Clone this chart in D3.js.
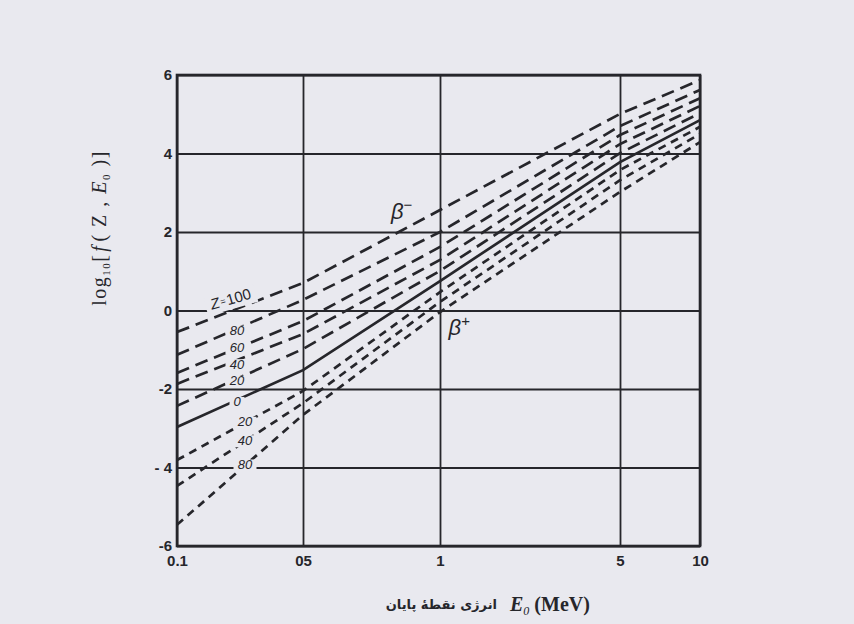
<!DOCTYPE html>
<html>
<head>
<meta charset="utf-8">
<script src="https://cdn.jsdelivr.net/npm/d3@7"></script>
<style>
  body { margin: 0; background: #e9e9ef; }
  svg { display: block; }
</style>
</head>
<body>
<svg id="chart" width="854" height="624"></svg>
<script>
const energies = [0.1, 0.5, 1, 5, 10];

// log10 f(Z, E0) for beta-minus emitters
const betaMinus100 = [-0.55, 0.70, 2.56, 5.01, 5.87];
const betaMinus80 = [-1.13, 0.27, 2.00, 4.70, 5.62];
const betaMinus60 = [-1.59, -0.27, 1.62, 4.47, 5.41];
const betaMinus40 = [-1.87, -0.60, 1.29, 4.24, 5.21];
const betaMinus20 = [-2.43, -0.98, 1.01, 4.01, 5.03];
// Z = 0
const zeroCharge = [-2.97, -1.52, 0.75, 3.78, 4.85];
// beta-plus emitters
const betaPlus20 = [-3.81, -2.05, 0.47, 3.58, 4.68];
const betaPlus40 = [-4.47, -2.36, 0.22, 3.32, 4.50];
const betaPlus80 = [-5.46, -2.66, -0.04, 3.02, 4.29];

const curveLabels = ["100", "80", "60", "40", "20", "0", "20", "40", "80"];
const curveKinds = ["minus", "minus", "minus", "minus", "minus", "zero", "plus", "plus", "plus"];

// Axis ticks
const xTicks = [0.1, 0.5, 1, 5, 10];
const xTickLabels = ["0.1", "05", "1", "5", "10"];
const yTicks = [-6, -4, -2, 0, 2, 4, 6];
const yTickLabels = ["-6", "- 4", "-2", "0", "2", "4", "6"];

const curves = [betaMinus100, betaMinus80, betaMinus60, betaMinus40, betaMinus20,
  zeroCharge, betaPlus20, betaPlus40, betaPlus80];

const ink = "#26262b";
const paper = "#e9e9ef";

const svg = d3.select("#chart");
svg.append("rect").attr("width", 854).attr("height", 624).attr("fill", paper);

const plotLeft = 177, plotRight = 700, plotTop = 75, plotBottom = 546;

// The printed energy axis is not evenly spaced, so use a piecewise log scale
const x = d3.scaleLog()
  .domain(xTicks)
  .range([plotLeft, 303, 440, 620, plotRight]);

const y = d3.scaleLinear()
  .domain([-6, 6])
  .range([plotBottom, plotTop]);

// Grid + tick labels
const xAxis = svg.append("g")
  .attr("transform", `translate(0,${plotBottom})`)
  .call(d3.axisBottom(x)
    .tickValues(xTicks)
    .tickSize(-(plotBottom - plotTop))
    .tickPadding(9)
    .tickFormat((d, i) => xTickLabels[i]));

const yAxis = svg.append("g")
  .attr("transform", `translate(${plotLeft},0)`)
  .call(d3.axisLeft(y)
    .tickValues(yTicks)
    .tickSize(-(plotRight - plotLeft))
    .tickPadding(5)
    .tickFormat((d, i) => yTickLabels[i]));

[xAxis, yAxis].forEach(g => {
  g.select(".domain").remove();
  g.selectAll(".tick line").attr("stroke", ink).attr("stroke-width", 1.8);
  g.selectAll(".tick text")
    .attr("fill", ink)
    .style("font-family", "Liberation Sans, Arial, sans-serif")
    .style("font-weight", "bold")
    .style("font-size", "15px");
});

// Plot border
svg.append("rect")
  .attr("x", plotLeft).attr("y", plotTop)
  .attr("width", plotRight - plotLeft).attr("height", plotBottom - plotTop)
  .attr("fill", "none")
  .attr("stroke", ink)
  .attr("stroke-width", 2.6);

// Curves
const line = d3.line()
  .x((d, i) => x(energies[i]))
  .y(d => y(d));

const dashFor = { minus: "13,7", zero: null, plus: "8,6" };

curves.forEach((values, k) => {
  svg.append("path")
    .datum(values)
    .attr("fill", "none")
    .attr("stroke", ink)
    .attr("stroke-width", 2.7)
    .attr("stroke-dasharray", dashFor[curveKinds[k]])
    .attr("d", line);
});

// Curve labels, placed where each curve crosses a fixed column
function curveYAt(values, px) {
  const pts = values.map((v, i) => [x(energies[i]), y(v)]);
  for (let i = 0; i < pts.length - 1; i++) {
    if (px >= pts[i][0] && px <= pts[i + 1][0]) {
      const t = (px - pts[i][0]) / (pts[i + 1][0] - pts[i][0]);
      return pts[i][1] + t * (pts[i + 1][1] - pts[i][1]);
    }
  }
  return pts[0][1];
}

// small nudges so the stacked labels don't collide
const labelNudge = [0, 3, 0, 5, 3, 3, 0, 0, 0];

const labelFont = "Liberation Sans, Arial, sans-serif";
curves.forEach((values, k) => {
  const kind = curveKinds[k];
  const px = kind === "plus" ? 245 : 237;
  const py = curveYAt(values, px) + labelNudge[k];
  const g = svg.append("g");
  if (k === 0) {
    // "Z = 100" label sits tilted along the top curve
    g.attr("transform", `translate(${px - 8},${py - 8}) rotate(-16)`);
    g.append("rect").attr("x", -24).attr("y", -9).attr("width", 52).attr("height", 18).attr("fill", paper);
    const t = g.append("text")
      .attr("x", 2).attr("y", 0)
      .attr("text-anchor", "middle")
      .attr("dominant-baseline", "middle")
      .attr("fill", ink)
      .style("font-family", labelFont)
      .style("font-size", "15px");
    t.append("tspan").style("font-style", "italic").text("Z");
    t.append("tspan").style("font-size", "9px").attr("dx", 1).text("=");
    t.append("tspan").attr("dx", 1).text(curveLabels[k]);
  } else {
    const w = curveLabels[k].length * 8 + 7;
    g.append("rect")
      .attr("x", px - w / 2).attr("y", py - 6)
      .attr("width", w).attr("height", 12)
      .attr("fill", paper);
    g.append("text")
      .attr("x", px).attr("y", py)
      .attr("text-anchor", "middle")
      .attr("dominant-baseline", "middle")
      .attr("fill", ink)
      .style("font-family", labelFont)
      .style("font-style", "italic")
      .style("font-size", "13px")
      .text(curveLabels[k]);
  }
});

// beta- and beta+ annotations
function betaLabel(px, py, sign) {
  const t = svg.append("text")
    .attr("x", px).attr("y", py)
    .attr("fill", ink)
    .style("font-family", "Liberation Sans, Arial, sans-serif")
    .style("font-style", "italic")
    .style("font-size", "22px");
  t.append("tspan").text("β");
  t.append("tspan").attr("dy", -9).style("font-size", "15px").style("font-style", "normal").text(sign);
}
betaLabel(x(0.78), y(2.32), "−");
betaLabel(x(1.08), y(-0.62), "+");

// Y axis title
const yTitle = svg.append("text")
  .attr("transform", "translate(106,228) rotate(-90)")
  .attr("text-anchor", "middle")
  .attr("fill", ink)
  .style("font-family", "Liberation Serif, Times New Roman, serif")
  .style("font-size", "20px")
  .style("letter-spacing", "1.5px");
yTitle.append("tspan").text("log");
yTitle.append("tspan").attr("dy", 4).style("font-size", "11px").text("10");
yTitle.append("tspan").attr("dy", -4).text("[");
yTitle.append("tspan").style("font-style", "italic").attr("dx", 2).text("f");
yTitle.append("tspan").attr("dx", 3).text("( Z , ");
yTitle.append("tspan").style("font-style", "italic").text("E");
yTitle.append("tspan").attr("dy", 4).style("font-size", "11px").text("0");
yTitle.append("tspan").attr("dy", -4).text(" )]");

// X axis title: Persian phrase then E0 (MeV)
svg.append("text")
  .attr("x", 497).attr("y", 609)
  .attr("text-anchor", "end")
  .attr("fill", ink)
  .style("font-family", "DejaVu Sans, sans-serif")
  .style("font-weight", "bold")
  .style("font-size", "13px")
  .text("انرژی نقطهٔ پایان");

const xTitle = svg.append("text")
  .attr("x", 510).attr("y", 611)
  .attr("fill", ink)
  .style("font-family", "Liberation Serif, Times New Roman, serif")
  .style("font-size", "20px");
xTitle.append("tspan").style("font-style", "italic").style("font-weight", "bold").text("E");
xTitle.append("tspan").attr("dy", 4).style("font-size", "12px").style("font-style", "italic").text("0");
xTitle.append("tspan").attr("dy", -4).attr("dx", 5).style("font-weight", "bold").text("(MeV)");
</script>
</body>
</html>
